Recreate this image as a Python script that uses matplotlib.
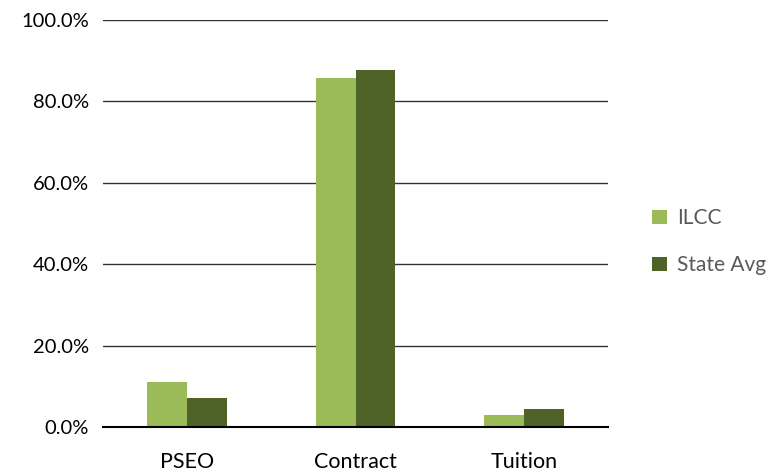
import numpy as np
import matplotlib
matplotlib.use("Agg")
import matplotlib.pyplot as plt
from matplotlib.ticker import PercentFormatter

categories = ["PSEO", "Contract", "Tuition"]
ilcc = [11.1, 85.8, 2.9]
state_avg = [7.2, 87.8, 4.4]

plt.rcParams["font.family"] = ["Lato", "DejaVu Sans"]

fig = plt.figure(figsize=(7.72, 4.73), dpi=100)
ax = fig.add_axes([0.1334, 0.0973, 0.6542, 0.8604])

x = np.arange(len(categories))
w = 0.237
ax.bar(x - w / 2, ilcc, w, color="#9BBB59", label="ILCC", zorder=3)
ax.bar(x + w / 2, state_avg, w, color="#4F6228", label="State Avg", zorder=3)

ax.set_xlim(-0.5, 2.5)
ax.set_ylim(0, 100)
ax.set_yticks(np.arange(0, 101, 20))
ax.yaxis.set_major_formatter(PercentFormatter(decimals=1))
ax.set_xticks(x)
ax.set_xticklabels(categories)
ax.tick_params(axis="y", length=0, labelsize=14.5, colors="black", pad=10)
ax.tick_params(axis="x", length=0, labelsize=15.5, colors="black", pad=18)
ax.grid(axis="y", color="#333333", linewidth=1, zorder=0)
for s in ["top", "right", "left"]:
    ax.spines[s].set_visible(False)
ax.spines["bottom"].set_color("black")
ax.spines["bottom"].set_linewidth(1.5)
ax.spines["bottom"].set_zorder(4)

leg = ax.legend(loc="center left", bbox_to_anchor=(1.05, 0.455), frameon=False,
                fontsize=15, handlelength=0.7, handleheight=0.7, labelspacing=1.3,
                handletextpad=0.5)
for t in leg.get_texts():
    t.set_color("#595959")

fig.savefig("out.png", dpi=100)
